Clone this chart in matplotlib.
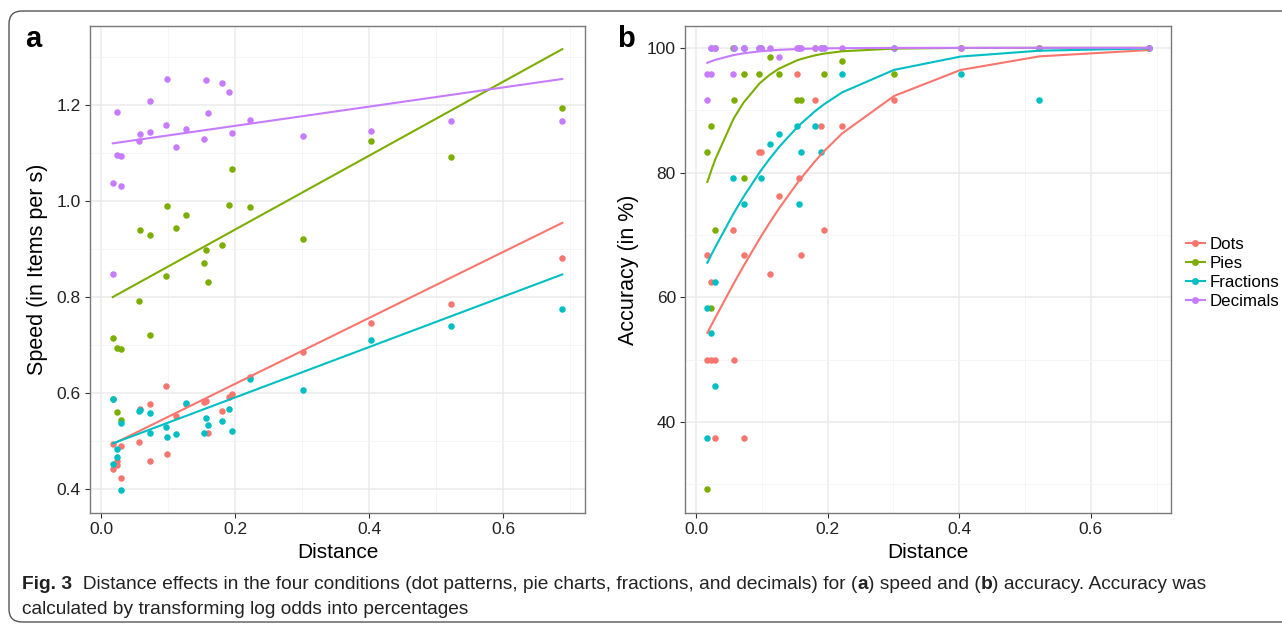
import numpy as np
import matplotlib
matplotlib.use("Agg")
import matplotlib.pyplot as plt
from matplotlib.lines import Line2D
from matplotlib.patches import FancyBboxPatch

plt.rcParams['font.family'] = ['Liberation Sans', 'DejaVu Sans']

# distances shared by all four conditions
distance = [0.017, 0.017, 0.023, 0.023, 0.029, 0.029, 0.056, 0.058, 0.072, 0.072,
            0.096, 0.098, 0.112, 0.126, 0.153, 0.156, 0.159, 0.180, 0.190, 0.195,
            0.222, 0.301, 0.402, 0.522, 0.688]

conditions = ["Dots", "Pies", "Fractions", "Decimals"]
colors = ["#F8766D", "#7CAE00", "#00BFC4", "#C77CFF"]

# panel a: speed (items per s)
speed_dots = [0.494, 0.442, 0.458, 0.449, 0.490, 0.422, 0.499, 0.567, 0.577, 0.458,
              0.615, 0.472, 0.552, 0.577, 0.581, 0.584, 0.517, 0.563, 0.592, 0.599,
              0.634, 0.685, 0.747, 0.785, 0.882]
speed_pies = [0.715, 0.588, 0.694, 0.561, 0.691, 0.543, 0.792, 0.940, 0.929, 0.721,
              0.844, 0.989, 0.943, 0.971, 0.871, 0.898, 0.831, 0.909, 0.992, 1.067,
              0.988, 0.921, 1.126, 1.092, 1.194]
speed_fractions = [0.453, 0.588, 0.484, 0.467, 0.538, 0.397, 0.562, 0.565, 0.558, 0.517,
                   0.530, 0.508, 0.514, 0.579, 0.517, 0.548, 0.533, 0.542, 0.566, 0.520,
                   0.629, 0.606, 0.711, 0.740, 0.776]
speed_decimals = [1.037, 0.849, 1.185, 1.096, 1.094, 1.031, 1.126, 1.140, 1.208, 1.144,
                  1.159, 1.255, 1.113, 1.150, 1.130, 1.253, 1.183, 1.246, 1.228, 1.142,
                  1.169, 1.136, 1.146, 1.166, 1.166]

# linear fits
speed_intercept = [0.482, 0.787, 0.486, 1.117]
speed_slope = [0.687, 0.770, 0.525, 0.200]

# panel b: accuracy (%)
acc_dots = [66.7, 50.0, 62.5, 50.0, 50.0, 37.5, 70.8, 50.0, 66.7, 37.5,
            83.3, 83.3, 63.7, 76.3, 95.8, 79.2, 66.7, 91.7, 87.5, 70.8,
            87.5, 91.7, 100, 100, 100]
acc_pies = [83.3, 29.2, 87.5, 58.3, 70.8, 100, 100, 91.7, 95.8, 79.2,
            95.8, 100, 98.6, 95.8, 91.7, 100, 91.7, 100, 100, 95.8,
            97.9, 95.8, 100, 100, 100]
acc_fractions = [58.3, 37.5, 54.2, 100, 62.5, 45.8, 79.2, 100, 100, 75.0,
                 100, 79.2, 84.6, 86.1, 87.5, 75.0, 83.3, 87.5, 83.3, 100,
                 95.8, 100, 95.8, 91.7, 100]
acc_decimals = [95.8, 91.7, 100, 95.8, 100, 100, 95.8, 100, 100, 100,
                100, 100, 100, 98.6, 100, 100, 100, 100, 100, 100,
                100, 100, 100, 100, 100]

# logistic fits (log odds)
acc_intercept = [0.034, 0.972, 0.483, 3.39]
acc_slope = [8.13, 19.0, 9.38, 18.5]

speed = [speed_dots, speed_pies, speed_fractions, speed_decimals]
accuracy = [acc_dots, acc_pies, acc_fractions, acc_decimals]

W, H = 1282, 626
fig = plt.figure(figsize=(W / 100, H / 100), dpi=100)

ax_a = fig.add_axes([90 / W, 1 - 513 / H, 495 / W, 487 / H])
ax_b = fig.add_axes([685 / W, 1 - 513 / H, 486 / W, 487 / H])

x = np.array(distance)
xs = np.unique(x)
for i, name in enumerate(conditions):
    ax_a.scatter(x, speed[i], s=22, color=colors[i], linewidths=0, zorder=3)
    ax_b.scatter(x, accuracy[i], s=22, color=colors[i], linewidths=0, zorder=3)
for i, name in enumerate(conditions):
    ends = np.array([x.min(), x.max()])
    ax_a.plot(ends, speed_intercept[i] + speed_slope[i] * ends, color=colors[i], lw=1.5, zorder=4)
    pred = 100 / (1 + np.exp(-(acc_intercept[i] + acc_slope[i] * xs)))
    ax_b.plot(xs, pred, color=colors[i], lw=1.5, zorder=4)

for ax in (ax_a, ax_b):
    ax.set_xlim(-0.017, 0.722)
    ax.set_xticks([0.0, 0.2, 0.4, 0.6])
    ax.set_xticks([0.1, 0.3, 0.5, 0.7], minor=True)
    ax.set_xticklabels(["0.0", "0.2", "0.4", "0.6"])
    ax.grid(which='major', color='#ebebeb', lw=1.1, zorder=0)
    ax.grid(which='minor', color='#f4f4f4', lw=0.6, zorder=0)
    ax.set_axisbelow(True)
    for s in ax.spines.values():
        s.set_color('#7a7a7a')
        s.set_linewidth(1.0)
    ax.tick_params(which='major', length=3.5, width=0.8, color='#333333',
                   labelsize=12.5, labelcolor='#222222', pad=3)
    ax.tick_params(which='minor', length=0)
    ax.set_xlabel("Distance", fontsize=15, labelpad=4)

ax_a.set_ylim(0.35, 1.365)
ax_a.set_yticks([0.4, 0.6, 0.8, 1.0, 1.2])
ax_a.set_yticks([0.5, 0.7, 0.9, 1.1, 1.3], minor=True)
ax_a.set_yticklabels(["0.4", "0.6", "0.8", "1.0", "1.2"])
ax_a.set_ylabel("Speed (in Items per s)", fontsize=15.5, labelpad=6)

ax_b.set_ylim(25.4, 103.5)
ax_b.set_yticks([40, 60, 80, 100])
ax_b.set_yticks([30, 50, 70, 90], minor=True)
ax_b.set_ylabel("Accuracy (in %)", fontsize=15.5, labelpad=6)

fig.text(25 / W, 1 - 47 / H, "a", fontsize=21, fontweight='bold')
fig.text(617 / W, 1 - 47 / H, "b", fontsize=21, fontweight='bold')

handles = [Line2D([0], [0], color=c, lw=1.5, marker='o', markersize=5, markeredgewidth=0)
           for c in colors]
fig.legend(handles, conditions, loc='center left', bbox_to_anchor=(1186 / W, 1 - 273 / H),
           frameon=False, fontsize=12.2, handlelength=1.1, handletextpad=0.3,
           labelspacing=0.22, borderpad=0, borderaxespad=0)

# outer rounded frame
frame = FancyBboxPatch((0.09, 0.04), 13.2, 6.11, boxstyle='round,pad=0,rounding_size=0.13',
                       transform=fig.dpi_scale_trans, fill=False, edgecolor='#555555', lw=1.0)
fig.patches.append(frame)

# caption
cap = dict(fontsize=13.8, family=['Liberation Sans', 'DejaVu Sans'], color='#222222')
pieces = [("Fig. 3", 'bold'),
          ("  Distance effects in the four conditions (dot patterns, pie charts, fractions, and decimals) for (", 'normal'),
          ("a", 'bold'), (") speed and (", 'normal'), ("b", 'bold'),
          (") accuracy. Accuracy was", 'normal')]
first = fig.text(22 / W, 1 - 589 / H, pieces[0][0], fontweight=pieces[0][1], va='baseline', **cap)
objs = [fig.text(0, 0, txt, fontweight=wt, va='baseline', **cap) for txt, wt in pieces[1:]]
fig.canvas.draw()
r = fig.canvas.get_renderer()
xpos = first.get_window_extent(r).x1
for t in objs:
    t.set_position((xpos / W, 1 - 589 / H))
    xpos = t.get_window_extent(r).x1
fig.text(22 / W, 1 - 614 / H, "calculated by transforming log odds into percentages", va='baseline', **cap)

fig.savefig("out.png", dpi=100)
